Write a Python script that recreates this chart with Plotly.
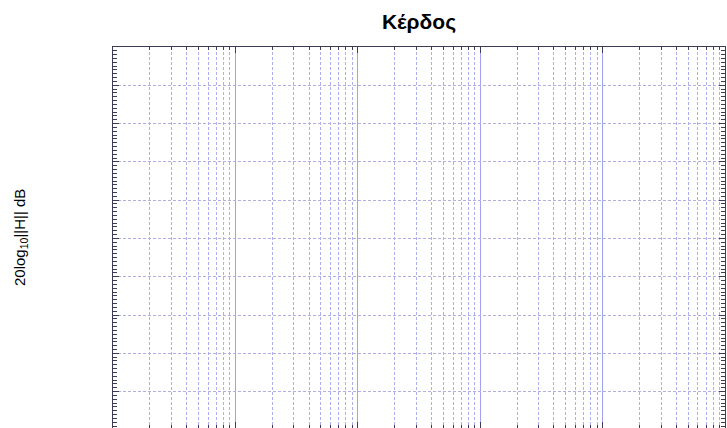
import plotly.graph_objects as go

# Frequency span of the gain plot (log10 decades) and gain axis span
freq_decades = [0, 1, 2, 3, 4, 5]
gain_range = [0.05, 10]
gain_major_step = 1
gain_minor_step = 0.1

title_text = "Κέρδος"
ylabel_text = "20log<sub>10</sub>||H|| dB"

axis_col = "#3c3c58"
major_grid = "#a0a0f4"
minor_grid = "#adadf2"
hgrid = "#b0b0e2"

fig = go.Figure()
fig.add_trace(go.Scatter(x=[10 ** freq_decades[0], 10 ** freq_decades[-1]],
                         y=[None, None], mode="lines", showlegend=False))

fig.update_layout(
    width=727, height=428,
    margin=dict(l=113, r=2, t=47, b=0),
    paper_bgcolor="white", plot_bgcolor="white",
    showlegend=False,
    title=dict(text="<b>" + title_text + "</b>", x=(113 + 725) / 2 / 727, xanchor="center",
               y=1 - 22 / 428, yanchor="middle",
               font=dict(family="Liberation Sans", size=21, color="black")),
    font=dict(family="Liberation Sans", color="black"),
)

fig.update_xaxes(
    type="log", range=[freq_decades[0], freq_decades[-1]],
    showline=True, linecolor=axis_col, linewidth=1, mirror="ticks",
    ticks="inside", ticklen=6, tickcolor=axis_col, dtick=1,
    showticklabels=False,
    showgrid=True, gridcolor=major_grid, gridwidth=1, griddash="solid",
    zeroline=False,
    minor=dict(ticks="inside", ticklen=3, tickcolor=axis_col, dtick="D1",
               showgrid=True, gridcolor=minor_grid, griddash="3px,2px", gridwidth=1),
)

fig.update_yaxes(
    range=gain_range,
    showline=True, linecolor=axis_col, linewidth=1, mirror="ticks",
    ticks="inside", ticklen=6, tickcolor=axis_col, dtick=gain_major_step, tick0=0,
    showticklabels=False,
    showgrid=True, gridcolor=hgrid, gridwidth=1, griddash="3px,2px",
    zeroline=False,
    minor=dict(ticks="inside", ticklen=4, tickcolor=axis_col, dtick=gain_minor_step,
               tick0=0, showgrid=False),
)

fig.add_annotation(
    text=ylabel_text, textangle=-90, showarrow=False,
    xref="paper", yref="paper", x=(21 - 113) / 612, y=(428 - 238) / 381,
    xanchor="center", yanchor="middle",
    font=dict(family="Liberation Sans", size=15, color="black"),
)

fig.write_html("out.html")
